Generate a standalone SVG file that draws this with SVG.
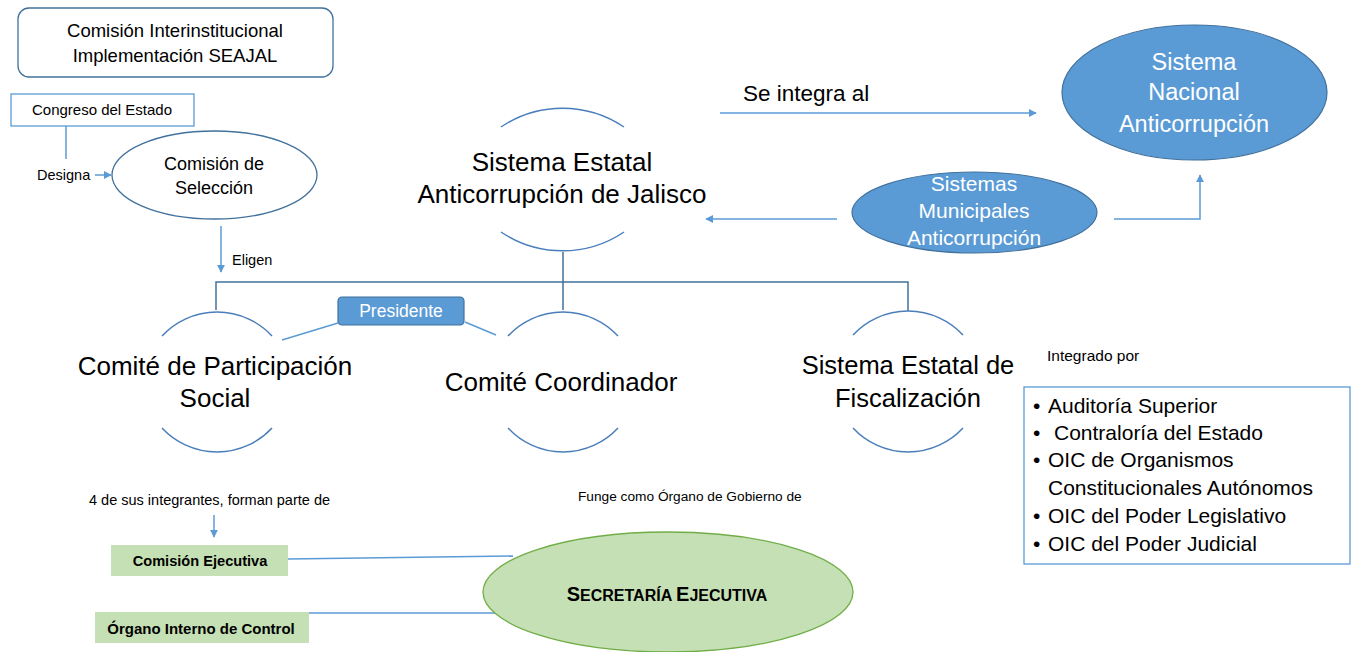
<svg xmlns="http://www.w3.org/2000/svg" width="1351" height="652" viewBox="0 0 1351 652">
<style>
text{font-family:"Liberation Sans",Arial,sans-serif;fill:#000}
.c{text-anchor:middle}
.w{fill:#fff}
.b{font-weight:bold}
.arc{fill:none;stroke:#4A7EBB;stroke-width:1.5}
.ln{fill:none;stroke:#5B9BD5;stroke-width:1.5}
.br{fill:none;stroke:#41719C;stroke-width:1.5}
.blue{fill:#5B9BD5;stroke:#41719C;stroke-width:1.2}
.green{fill:#C5E0B4}
</style>
<defs>
<marker id="ah" viewBox="0 0 10 10" refX="9" refY="5" markerWidth="5" markerHeight="5" orient="auto" markerUnits="userSpaceOnUse">
<path d="M0,0 L10,5 L0,10 z" fill="#5B9BD5"/>
</marker>
<marker id="ahs" viewBox="0 0 10 10" refX="9" refY="5" markerWidth="8" markerHeight="8" orient="auto" markerUnits="userSpaceOnUse">
<path d="M0,0 L10,5 L0,10 z" fill="#5B9BD5"/>
</marker>
</defs>

<g id="connectors">
<path class="ln" d="M66,126 V159"/>
<path class="ln" d="M95,175 H111" marker-end="url(#ahs)"/>
<path class="ln" d="M221,226 V272" marker-end="url(#ahs)"/>
<path class="br" d="M563,252 V282 M216,310 V282 H908 V311 M563,282 V310"/>
<path class="ln" d="M338,323 L282,340"/>
<path class="ln" d="M465,322 L496,335"/>
<path class="ln" d="M720,113 H1036" marker-end="url(#ahs)"/>
<path class="ln" d="M837,219 H706" marker-end="url(#ahs)"/>
<path class="ln" d="M1114,219 H1200 V175" marker-end="url(#ahs)"/>
<path class="ln" d="M214,515 V537" marker-end="url(#ahs)"/>
<path class="ln" d="M288,559 L513,556"/>
<path class="ln" d="M309,613 H495"/>
</g>

<g id="comision-interinstitucional">
<rect x="18" y="8" width="315" height="69" rx="11" fill="#fff" stroke="#41719C" stroke-width="1.3"/>
<text class="c" x="175" y="37" font-size="18.5">Comisión Interinstitucional</text>
<text class="c" x="175" y="62" font-size="18.5">Implementación SEAJAL</text>
</g>

<g id="congreso">
<rect x="11" y="94" width="183" height="32" fill="#fff" stroke="#5B9BD5" stroke-width="1.3"/>
<text class="c" x="102" y="115" font-size="15">Congreso del Estado</text>
</g>

<g id="designa">
<text x="37" y="180" font-size="14.5">Designa</text>
</g>

<g id="comision-seleccion">
<ellipse cx="214.5" cy="175" rx="102.5" ry="44" fill="#fff" stroke="#41719C" stroke-width="1.3"/>
<text class="c" x="214" y="170" font-size="18">Comisión de</text>
<text class="c" x="214" y="194" font-size="18">Selección</text>
</g>

<g id="eligen">
<text x="232" y="265" font-size="14.5">Eligen</text>
</g>

<g id="sistema-estatal">
<path class="arc" d="M501,127 A110,110 0 0 1 624,127"/>
<path class="arc" d="M501,232 A110,110 0 0 0 624,232"/>
<text class="c" x="562" y="171" font-size="26">Sistema Estatal</text>
<text class="c" x="562" y="203" font-size="26">Anticorrupción de Jalisco</text>
</g>

<g id="se-integra">
<text x="743" y="101" font-size="22.5">Se integra al</text>
</g>

<g id="sistema-nacional">
<ellipse cx="1194.5" cy="92.5" rx="132.5" ry="67.5" class="blue"/>
<text class="c w" x="1194" y="70" font-size="23.5">Sistema</text>
<text class="c w" x="1194" y="100" font-size="23.5">Nacional</text>
<text class="c w" x="1194" y="132" font-size="23.5">Anticorrupción</text>
</g>

<g id="sistemas-municipales">
<ellipse cx="974.5" cy="212.5" rx="122.5" ry="40.5" class="blue"/>
<text class="c w" x="974" y="191" font-size="21">Sistemas</text>
<text class="c w" x="974" y="218" font-size="21">Municipales</text>
<text class="c w" x="974" y="245" font-size="21">Anticorrupción</text>
</g>

<g id="comite-participacion">
<path class="arc" d="M162,336 A75,75 0 0 1 272,336"/>
<path class="arc" d="M162,428 A75,75 0 0 0 272,428"/>
<text class="c" x="215" y="375" font-size="26">Comité de Participación</text>
<text class="c" x="215" y="407" font-size="26">Social</text>
</g>

<g id="presidente">
<rect x="338" y="297" width="126" height="28" rx="4" class="blue"/>
<text class="c w" x="401" y="317" font-size="17.5">Presidente</text>
</g>

<g id="comite-coordinador">
<path class="arc" d="M508,336 A75,75 0 0 1 618,336"/>
<path class="arc" d="M508,428 A75,75 0 0 0 618,428"/>
<text class="c" x="561" y="391" font-size="26">Comité Coordinador</text>
</g>

<g id="sistema-fiscalizacion">
<path class="arc" d="M853,335 A75,75 0 0 1 963,335"/>
<path class="arc" d="M853,428 A75,75 0 0 0 963,428"/>
<text class="c" x="908" y="374" font-size="25.5">Sistema Estatal de</text>
<text class="c" x="908" y="407" font-size="25.5">Fiscalización</text>
</g>

<g id="integrado-por">
<text x="1047" y="361" font-size="15.5">Integrado por</text>
<rect x="1024" y="387" width="326" height="177" fill="#fff" stroke="#5B9BD5" stroke-width="1.3"/>
<text font-size="21" y="413"><tspan x="1033">•</tspan><tspan x="1048">Auditoría Superior</tspan></text>
<text font-size="21" y="440"><tspan x="1033">•</tspan><tspan x="1054">Contraloría del Estado</tspan></text>
<text font-size="21" y="467"><tspan x="1033">•</tspan><tspan x="1048">OIC de Organismos</tspan></text>
<text font-size="21" x="1048" y="495">Constitucionales Autónomos</text>
<text font-size="21" y="523"><tspan x="1033">•</tspan><tspan x="1048">OIC del Poder Legislativo</tspan></text>
<text font-size="21" y="551"><tspan x="1033">•</tspan><tspan x="1048">OIC del Poder Judicial</tspan></text>
</g>

<g id="integrantes">
<text x="89" y="505" font-size="14.5">4 de sus integrantes, forman parte de</text>
</g>

<g id="funge">
<text x="578" y="501" font-size="13.7">Funge como Órgano de Gobierno de</text>
</g>

<g id="comision-ejecutiva">
<rect x="111" y="545" width="177" height="31" class="green"/>
<text class="c b" x="200" y="566" font-size="14.6">Comisión Ejecutiva</text>
</g>

<g id="organo-interno">
<rect x="95" y="612" width="214" height="31" class="green"/>
<text class="c b" x="201" y="634" font-size="15">Órgano Interno de Control</text>
</g>

<g id="secretaria-ejecutiva">
<ellipse cx="668" cy="592" rx="185" ry="60" fill="#C5E0B4" stroke="#70AD47" stroke-width="1.3"/>
<text class="c b" x="667" y="601" font-size="16"><tspan font-size="20">S</tspan>ECRETARÍA <tspan font-size="20">E</tspan>JECUTIVA</text>
</g>
</svg>
